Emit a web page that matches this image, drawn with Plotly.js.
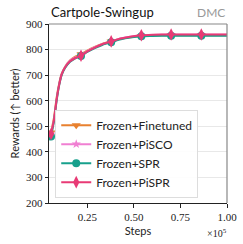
<!DOCTYPE html>
<html><head><meta charset="utf-8">
<script src="https://cdn.plot.ly/plotly-3.0.1.min.js"></script>
<style>html,body{margin:0;padding:0;background:#fff}#c{width:243px;height:244px}</style>
</head><body><div id="c"></div>
<script>
const steps = [5500, 7100, 8500, 9800, 11200, 13000, 15700, 18500, 21600, 25000, 29000, 33000, 37800, 43000, 48000, 54000, 60000, 70000, 78000, 86200, 94000, 100000];
const finetuned = [476, 535, 612, 665, 705, 732, 757, 772, 782, 796, 810, 822, 832, 842, 848, 853, 855, 856, 856, 856, 856, 856];
const pisco     = [470, 528, 606, 662, 703, 731, 756, 769, 778, 794, 809, 821, 832, 843, 850, 855, 857, 858, 858, 858, 858, 858];
const piscoStd  = [12, 14, 14, 12, 10, 9, 8, 7, 7, 6, 6, 5, 5, 5, 4, 4, 4, 4, 4, 4, 4, 4];
const spr       = [460, 520, 600, 658, 700, 728, 752, 766, 775, 791, 806, 818, 829, 840, 847, 852, 853, 854, 854, 854, 854, 854];
const pispr     = [470, 525, 604, 660, 703, 730, 754, 767, 776, 793, 808, 821, 832, 843, 850, 856, 858, 859, 859, 859, 859, 859];
const markerIdx = [0, 8, 12, 15, 17, 19];
const names = ["Frozen+Finetuned", "Frozen+PiSCO", "Frozen+SPR", "Frozen+PiSPR"];
const colors = ["#e8812f", "#f07fd2", "#17a08c", "#e83a75"];
const symbols = ["triangle-down", "star", "circle", "diamond-tall"];
const msizes = [8, 7, 8, 9];
const series = [finetuned, pisco, spr, pispr];

const traces = [];
traces.push({x: steps, y: pisco.map((v,i)=>v-piscoStd[i]), mode:'lines', line:{width:0, shape:'spline', smoothing:0.6}, showlegend:false, hoverinfo:'skip'});
traces.push({x: steps, y: pisco.map((v,i)=>v+piscoStd[i]), mode:'lines', line:{width:0, shape:'spline', smoothing:0.6}, fill:'tonexty', fillcolor:'rgba(240,127,210,0.3)', showlegend:false, hoverinfo:'skip'});
series.forEach((ys, k) => {
  traces.push({x: steps, y: ys, mode:'lines', showlegend:false,
    line:{color: colors[k], width: 2, shape:'spline', smoothing:0.6}});
  traces.push({x: markerIdx.map(i=>steps[i]), y: markerIdx.map(i=>ys[i]), mode:'markers', showlegend:false,
    marker:{symbol: symbols[k], size: msizes[k], color: colors[k], line:{width:0}}});
});
// legend entries
series.forEach((ys, k) => {
  traces.push({x: [null], y: [null], name: names[k], mode:'lines+markers',
    line:{color: colors[k], width: 2}, marker:{symbol: symbols[k], size: msizes[k], color: colors[k], line:{width:0}}});
});

const serif = "Liberation Serif, DejaVu Serif, serif";
const sans = "Lato, DejaVu Sans, sans-serif";
const layout = {
  width: 243, height: 244,
  margin: {l: 49, r: 16, t: 24, b: 41},
  paper_bgcolor: '#fff', plot_bgcolor: '#fff',
  showlegend: true,
  xaxis: {range: [4400, 100000], tickvals: [25000, 50000, 75000, 100000], ticktext: ['0.25','0.50','0.75','1.00'],
    tickfont: {family: serif, size: 11, color: '#222'}, ticks: 'outside', ticklen: 4, tickcolor: '#222',
    showgrid: false, zeroline: false, showline: true, linecolor: '#222', linewidth: 1.2, mirror: false,
    title: {text: 'Steps', font: {family: sans, size: 11, color: '#222'}, standoff: 4}},
  yaxis: {range: [200, 900], tickvals: [200,300,400,500,600,700,800,900],
    tickfont: {family: serif, size: 11, color: '#222'}, ticks: 'outside', ticklen: 3, tickcolor: '#222',
    showgrid: true, gridcolor: '#e8e8e8', gridwidth: 1, zeroline: false, showline: true, linecolor: '#222', linewidth: 1.2,
    title: {text: 'Rewards (↑ better)', font: {family: sans, size: 11, color: '#222'}, standoff: 4}},
  legend: {x: 0.035, y: 0.03, xanchor: 'left', yanchor: 'bottom', bgcolor: 'rgba(255,255,255,0.9)', traceorder: 'normal',
    bordercolor: '#dddddd', borderwidth: 1, font: {family: sans, size: 12, color: '#222'}, tracegroupgap: 0, itemwidth: 30},
  shapes: [
    {type:'line', xref:'paper', yref:'paper', x0:0, x1:1, y0:1, y1:1, line:{color:'#888', width:1.2}},
    {type:'line', xref:'paper', yref:'paper', x0:1, x1:1, y0:0, y1:1, line:{color:'#888', width:1.2}}
  ],
  annotations: [
    {text: 'Cartpole-Swingup', xref:'paper', yref:'paper', x: 0.0, y: 1.0, xanchor:'left', yanchor:'bottom', yshift: 2, showarrow:false,
     font:{family: sans, size: 13, color:'#111'}},
    {text: 'DMC', xref:'paper', yref:'paper', x: 1.0, y: 1.0, xanchor:'right', yanchor:'bottom', yshift: 2, showarrow:false,
     font:{family: sans, size: 12, color:'#999'}},
    {text: '×10<sup>5</sup>', xref:'paper', yref:'paper', x: 1.0, y: 0, xanchor:'right', yanchor:'top', yshift: -22, xshift: 2, showarrow:false,
     font:{family: serif, size: 10, color:'#222'}}
  ]
};
Plotly.newPlot('c', traces, layout, {displayModeBar: false, staticPlot: true});
</script></body></html>
